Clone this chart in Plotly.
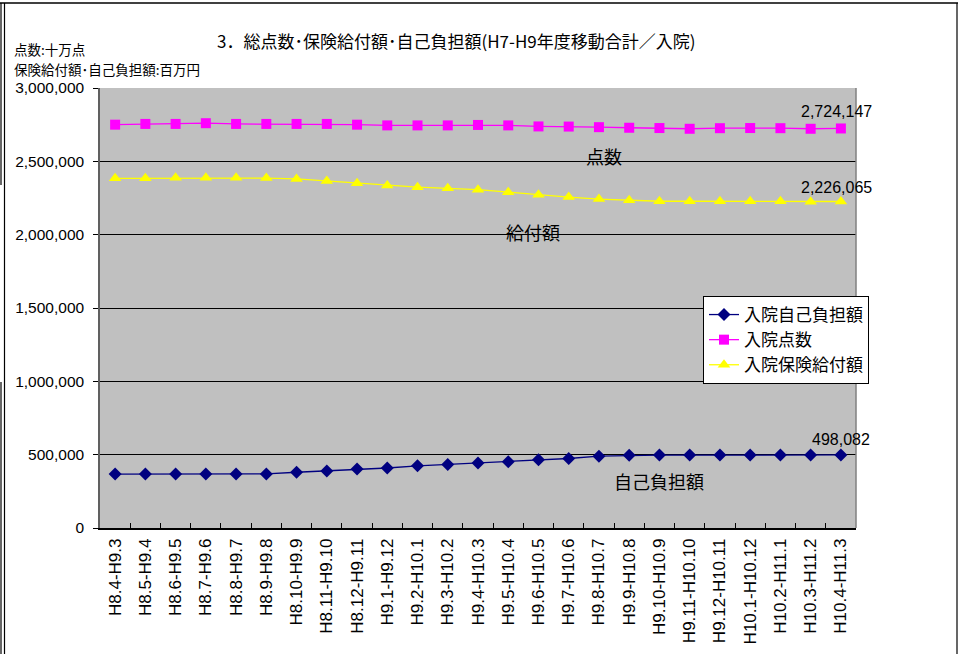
import plotly.graph_objects as go

categories = ["H8.4-H9.3", "H8.5-H9.4", "H8.6-H9.5", "H8.7-H9.6", "H8.8-H9.7", "H8.9-H9.8",
              "H8.10-H9.9", "H8.11-H9.10", "H8.12-H9.11", "H9.1-H9.12", "H9.2-H10.1", "H9.3-H10.2",
              "H9.4-H10.3", "H9.5-H10.4", "H9.6-H10.5", "H9.7-H10.6", "H9.8-H10.7", "H9.9-H10.8",
              "H9.10-H10.9", "H9.11-H10.10", "H9.12-H10.11", "H10.1-H10.12", "H10.2-H11.1",
              "H10.3-H11.2", "H10.4-H11.3"]

self_pay = [368000, 368000, 368000, 368000, 368000, 369000, 380000, 389000, 402000, 409000,
            424000, 433000, 444000, 452000, 465000, 474000, 490000, 496000, 497000, 497000,
            497000, 497000, 497000, 498000, 498082]
points = [2750000, 2755000, 2755000, 2760000, 2755000, 2755000, 2755000, 2755000, 2750000,
          2745000, 2745000, 2745000, 2748000, 2745000, 2738000, 2737000, 2733000, 2729000,
          2727000, 2722000, 2726000, 2727000, 2726000, 2722000, 2724147]
benefit = [2384000, 2384000, 2388000, 2388000, 2388000, 2386000, 2380000, 2366000, 2350000,
           2336000, 2324000, 2316000, 2307000, 2290000, 2272000, 2256000, 2243000, 2234000,
           2228000, 2228000, 2228000, 2227000, 2227000, 2225000, 2226065]

series_names = ["入院自己負担額", "入院点数", "入院保険給付額"]
y_ticks = [0, 500000, 1000000, 1500000, 2000000, 2500000, 3000000]

FONT = "Liberation Sans, Arial, Noto Sans CJK JP, sans-serif"
JFONT = "Noto Sans CJK JP, Liberation Sans, sans-serif"

L, R, T, B = 100, 105, 88, 126
W, H = 961, 654
pw, ph = W - L - R, H - T - B

def px(x):
    return (x - L) / pw

def py(y):
    return (H - B - y) / ph

fig = go.Figure()
fig.add_trace(go.Scatter(x=categories, y=self_pay, name=series_names[0], mode="lines+markers",
                         line=dict(color="#000080", width=1.3),
                         marker=dict(symbol="diamond", size=10, color="#000080")))
fig.add_trace(go.Scatter(x=categories, y=points, name=series_names[1], mode="lines+markers",
                         line=dict(color="#FF00FF", width=1.3),
                         marker=dict(symbol="square", size=10, color="#FF00FF")))
fig.add_trace(go.Scatter(x=categories, y=benefit, name=series_names[2], mode="lines+markers",
                         line=dict(color="#FFFF00", width=1.3),
                         marker=dict(symbol="triangle-up", size=11, color="#FFFF00")))

annotations = [
    dict(x=categories[-1], y=points[-1], text=f"{points[-1]:,}", showarrow=False, yshift=17,
         xshift=-4, font=dict(size=16, color="black", family=FONT)),
    dict(x=categories[-1], y=benefit[-1], text=f"{benefit[-1]:,}", showarrow=False, yshift=14,
         xshift=-4, font=dict(size=16, color="black", family=FONT)),
    dict(x=categories[-1], y=self_pay[-1], text=f"{self_pay[-1]:,}", showarrow=False, yshift=15,
         xshift=0, font=dict(size=16, color="black", family=FONT)),
    dict(x=categories[16], y=2536000, text="点数", showarrow=False, xshift=5,
         font=dict(size=18, color="black", family=JFONT)),
    dict(x=categories[14], y=2018000, text="給付額", showarrow=False, xshift=-5,
         font=dict(size=18, color="black", family=JFONT)),
    dict(x=categories[18], y=320000, text="自己負担額", showarrow=False, xshift=0,
         font=dict(size=18, color="black", family=JFONT)),
    dict(xref="paper", yref="paper", x=px(456), y=py(41), xanchor="center", yanchor="middle",
         text="3．総点数･保険給付額･自己負担額(H7-H9年度移動合計／入院)",
         showarrow=False, font=dict(size=17, color="black", family=JFONT)),
    dict(xref="paper", yref="paper", x=px(12), y=py(49), xanchor="left", yanchor="middle",
         text="点数:十万点", showarrow=False, font=dict(size=13.5, color="black", family=JFONT)),
    dict(xref="paper", yref="paper", x=px(12), y=py(69), xanchor="left", yanchor="middle",
         text="保険給付額･自己負担額:百万円", showarrow=False,
         font=dict(size=13.5, color="black", family=JFONT)),
]

shapes = [
    dict(type="line", xref="paper", yref="paper", x0=px(0), x1=px(958), y0=py(3), y1=py(3),
         line=dict(color="black", width=1.5)),
    dict(type="line", xref="paper", yref="paper", x0=px(4.5), x1=px(4.5), y0=py(3), y1=py(654),
         line=dict(color="black", width=1.2)),
    dict(type="line", xref="paper", yref="paper", x0=px(1), x1=px(1), y0=py(3), y1=py(185),
         line=dict(color="black", width=1.2)),
    dict(type="line", xref="paper", yref="paper", x0=px(1), x1=px(1), y0=py(382), y1=py(654),
         line=dict(color="black", width=1.2)),
    dict(type="line", xref="paper", yref="paper", x0=px(957), x1=px(957), y0=py(3), y1=py(654),
         line=dict(color="black", width=1.2)),
    dict(type="line", xref="paper", yref="paper", x0=1, x1=1, y0=0, y1=1,
         line=dict(color="#808080", width=1.5)),
]

fig.update_layout(
    width=W, height=H,
    margin=dict(l=L, r=R, t=T, b=B, pad=0, autoexpand=False),
    paper_bgcolor="white",
    plot_bgcolor="#C0C0C0",
    showlegend=True,
    legend=dict(x=px(703), y=py(296), xanchor="left", yanchor="top",
                bgcolor="white", bordercolor="black", borderwidth=1,
                font=dict(size=17, color="black", family=JFONT),
                tracegroupgap=0, itemwidth=30),
    annotations=annotations,
    shapes=shapes,
    font=dict(family=FONT, color="black"),
)

fig.update_xaxes(
    type="category", tickangle=-90, tickfont=dict(size=17, family=FONT, color="black"),
    showgrid=False, tickson="boundaries", ticks="inside", ticklen=5, tickcolor="black",
    showline=True, linecolor="black", linewidth=1.5, mirror=False, automargin=False,
    range=[-0.5, len(categories) - 0.5], ticklabelstandoff=2,
)
fig.update_yaxes(
    range=[0, 3000000], tickvals=y_ticks, tickformat=",d",
    tickfont=dict(size=15.5, family=FONT, color="black"),
    showgrid=True, gridcolor="black", gridwidth=1, zeroline=False, automargin=False,
    ticks="outside", ticklen=5, tickcolor="black", ticklabelstandoff=6,
    showline=True, linecolor="#606060", linewidth=1.5,
)

fig.write_html("out.html")
